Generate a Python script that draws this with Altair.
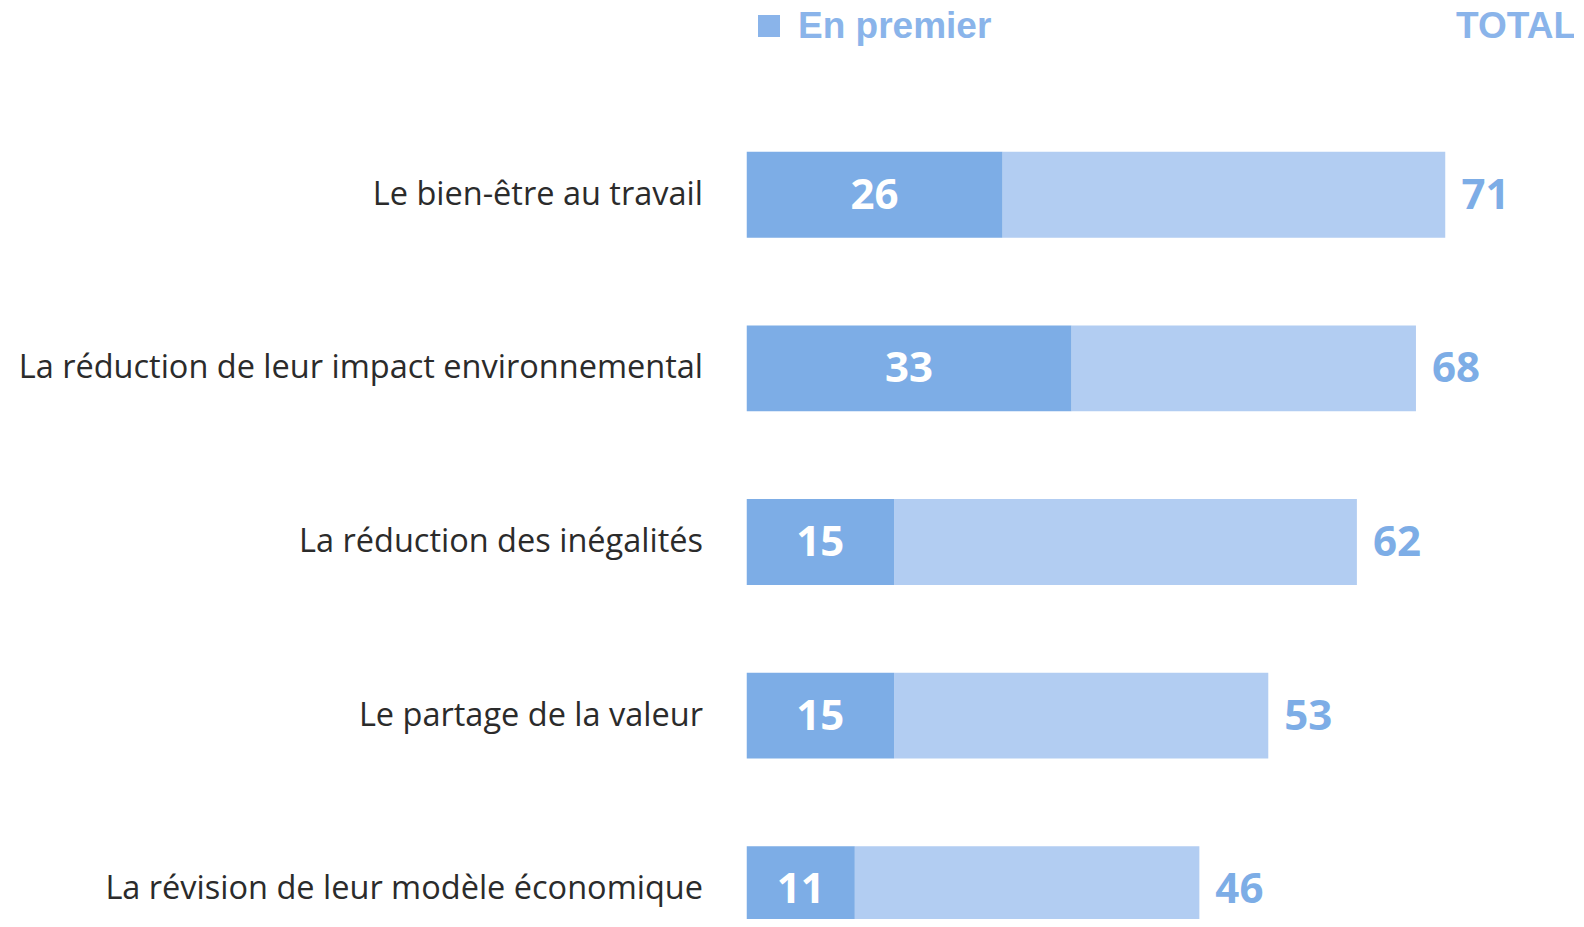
import altair as alt
import pandas as pd

categories = [
    "Le bien-être au travail",
    "La réduction de leur impact environnemental",
    "La réduction des inégalités",
    "Le partage de la valeur",
    "La révision de leur modèle économique",
]
first = [26, 33, 15, 15, 11]
total = [71, 68, 62, 53, 46]
legend_label = ["En premier"]
total_header = ["TOTAL"]

df = pd.DataFrame({"cat": categories, "first": first, "total": total})
df["mid"] = df["first"] / 2

DARK = "#7DADE6"
LIGHT = "#B2CDF2"
HEAD = "#8AB4EA"

W = 699
H = 811
STEP = 173.6

xs = alt.Scale(domain=[0, 71], nice=False, zero=True)
ys = alt.Scale(domain=categories, range=[0, STEP * 5], paddingInner=0.505, paddingOuter=0.2525)

base = alt.Chart(df)

yenc = alt.Y("cat:N", scale=ys, sort=categories,
             axis=alt.Axis(title=None, domain=False, ticks=False, labelPadding=44,
                           labelFont="Open Sans", labelFontSize=32.5, labelColor="#2b2b2b",
                           labelLimit=0, grid=False))

light = base.mark_bar(color=LIGHT, clip=True).encode(
    x=alt.X("first:Q", scale=xs, axis=None), x2="total:Q", y=yenc)
dark = base.mark_bar(color=DARK, clip=True).encode(
    x=alt.X("first:Q", scale=xs, axis=None), x2=alt.datum(0), y=alt.Y("cat:N", scale=ys, sort=categories))
inner = base.mark_text(color="white", font="Open Sans", fontWeight="bold", fontSize=42,
                       align="center", baseline="middle", dy=1).encode(
    x=alt.X("mid:Q", scale=xs), y=alt.Y("cat:N", scale=ys, sort=categories), text="first:Q")
tot = base.mark_text(color=DARK, font="Open Sans", fontWeight="bold", fontSize=42,
                     align="left", baseline="middle", dx=16, dy=1).encode(
    x=alt.X("total:Q", scale=xs), y=alt.Y("cat:N", scale=ys, sort=categories), text="total:Q")

sq = alt.Chart(pd.DataFrame({"t": legend_label})).mark_point(
    shape="square", filled=True, color=HEAD, size=484, opacity=1).encode(
    x=alt.value(22.5), y=alt.value(-82))
leg = alt.Chart(pd.DataFrame({"t": legend_label})).mark_text(
    color=HEAD, font="Liberation Sans", fontWeight="bold", fontSize=37,
    align="left", baseline="middle").encode(x=alt.value(51.5), y=alt.value(-81), text="t:N")
th = alt.Chart(pd.DataFrame({"t": total_header})).mark_text(
    color=HEAD, font="Liberation Sans", fontWeight="bold", fontSize=37,
    align="right", baseline="middle").encode(x=alt.value(829.5), y=alt.value(-81), text="t:N")

chart = alt.layer(light, dark, inner, tot, sq, leg, th).properties(
    width=W, height=H,
    autosize=alt.AutoSizeParams(type="none"),
    padding={"left": 738.5, "top": 100, "right": 128.5, "bottom": 0},
).configure_view(stroke=None)

chart.save("out.html", embed_options={"renderer": "svg", "actions": False})
